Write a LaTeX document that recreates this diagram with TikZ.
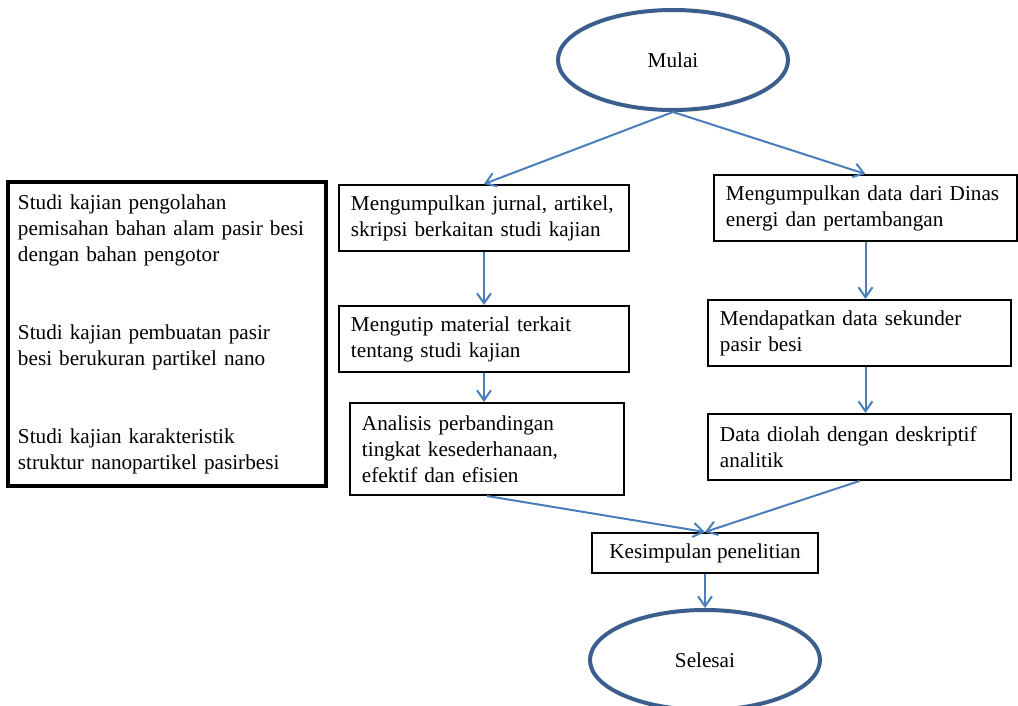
\documentclass[tikz,border=0pt]{standalone}
\usepackage{fontspec}
\setmainfont{Liberation Serif}
\usepackage{tikz}
\usetikzlibrary{calc,positioning,arrows.meta,shapes.geometric}
\definecolor{ovalBlue}{RGB}{59,95,140}
\definecolor{arrowBlue}{RGB}{74,126,187}
\tikzstyle{terminal} = [ellipse, draw=ovalBlue, line width=2pt, minimum width=115pt, minimum height=50pt, text centered]
\tikzstyle{box} = [rectangle, draw=black, line width=1pt, align=left, inner xsep=6pt]
\tikzstyle{arrow} = [draw=arrowBlue, line width=1pt, -{Straight Barb[length=5pt,width=7pt]}]

\begin{document}
\hyphenpenalty=10000
\begin{tikzpicture}[font=\fontsize{10.6}{13}\selectfont]
\tikzset{%
	twoline/.style = { box, minimum height=33pt },
	study/.style = { rectangle, draw=black, line width=2pt, align=left, text width=149pt, inner xsep=5pt, minimum height=152pt }
}
\useasboundingbox (-336.5pt,30pt) rectangle (172.5pt,-323pt);

\node(Mulai)			[terminal]
								{Mulai};

\node(Jurnal)			[twoline, text width=133pt, below left=36pt and 21.5pt of Mulai.south]
								{Mengumpulkan jurnal, artikel,\\ skripsi berkaitan studi kajian};
\node(Kutip)			[twoline, text width=133pt, below=26.5pt of Jurnal]
								{Mengutip material terkait\\ tentang studi kajian};
\node(Analisis)		[box, text width=125pt, minimum height=46pt, below=14.5pt of Kutip, xshift=1.5pt]
								{Analisis perbandingan\\ tingkat kesederhanaan,\\ efektif dan efisien};

\node(Dinas)			[twoline, text width=139.5pt, below right=31pt and 20pt of Mulai.south]
								{Mengumpulkan data dari Dinas\\ energi dan pertambangan};
\node(Sekunder)		[twoline, text width=139.5pt, below=28.5pt of Dinas, xshift=-3pt]
								{Mendapatkan data sekunder\\ pasir besi};
\node(Olah)				[twoline, text width=139.5pt, below=23pt of Sekunder]
								{Data diolah dengan deskriptif\\ analitik};

\node(Studi)			[study, below left=-2pt and 5pt of Jurnal.north west]
								{Studi kajian pengolahan\\ pemisahan bahan alam pasir besi\\ dengan bahan pengotor\\[26pt]
								 Studi kajian pembuatan pasir\\ besi berukuran partikel nano\\[26pt]
								 Studi kajian karakteristik\\ struktur nanopartikel pasirbesi};

\node(Simpul)			[box, minimum width=113pt, minimum height=20pt, align=center, below right=18pt and 52pt of Analisis.south]
								{Kesimpulan penelitian};
\node(Selesai)		[terminal, below=17pt of Simpul]
								{Selesai};

%\draw [arrow] (Studi.east) -- (Jurnal.west);
\draw [arrow]	(Mulai.south) -- (Jurnal.north);
\draw [arrow]	(Mulai.south) -- (Dinas.north);

\draw [arrow]	(Jurnal) -- (Kutip);
\draw [arrow]	(Kutip) -- (Kutip.south |- Analisis.north);

\draw [arrow]	(Dinas.south) -- (Dinas.south |- Sekunder.north);
\draw [arrow]	(Dinas.south |- Sekunder.south) -- (Dinas.south |- Olah.north);

\draw [arrow]	(Analisis.south) -- (Simpul.north);
\draw [arrow]	(Olah.south) -- (Simpul.north);
\draw [arrow]	(Simpul) -- (Selesai);

\end{tikzpicture}
\end{document}
